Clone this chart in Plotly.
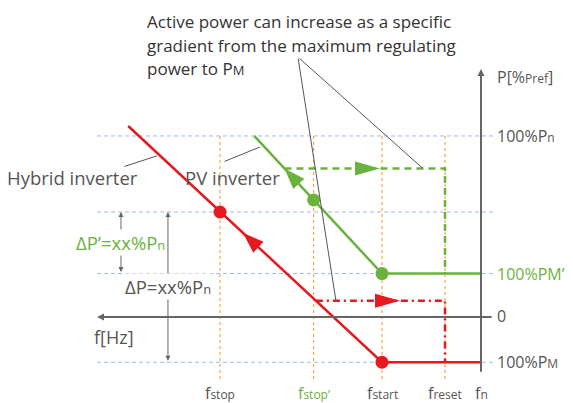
import numpy as np
import plotly.graph_objects as go

W, H = 573, 403

# ---- frequency marks (Hz); frequency grows to the left ----
f_n = 50.0
f_reset = 50.2
f_start = 50.55
f_stop_pv = 50.93
f_stop = 51.45
f_marks = [f_stop, f_stop_pv, f_start, f_reset, f_n]
f_mark_labels = ["f<span style='font-size:12px'>stop</span>",
                 "f<span style='font-size:12px'>stop’</span>",
                 "f<span style='font-size:12px'>start</span>",
                 "f<span style='font-size:12px'>reset</span>",
                 "f<span style='font-size:12px'>n</span>"]
f_mark_colors = ["#555555", "#6ab23e", "#555555", "#555555", "#555555"]

# ---- power levels (% of Pref) ----
P_n = 100
P_stop = 58
P_M_pv = 24
P_M = -25
P_pv_hold = 82
P_hyb_hold = 9

# ---- characteristic curves ----
hyb_f = [51.96, f_start, f_n]
hyb_p = [105.5, P_M, P_M]
pv_f = [51.26, f_start, f_n]
pv_p = [P_n, P_M_pv, P_M_pv]

# axis extents
x_range = [52.672, 49.489]
y_range = [-47.5, 175.1]
x_grid = [52.133, 49.933]
P_top_arrow = 137.0
P_axis_bottom = -31.0
P_dotted_bottom = -35.0

RED = "#e5191f"
GREEN = "#6ab23e"
GRAY = "#555555"
AXIS = "#666666"
BLUE = "#9fb9e3"
ORANGE = "#f7a93a"
FONT = "Open Sans"

sx = W / (x_range[0] - x_range[1])   # px per Hz
sy = H / (y_range[1] - y_range[0])   # px per %


def on_curve(fs, ps, f):
    return float(np.interp(f, fs[::-1], ps[::-1]))


fig = go.Figure()

# dashed horizontal reference levels
for lvl in [P_n, P_stop, P_M_pv, P_M]:
    fig.add_trace(go.Scatter(x=x_grid, y=[lvl, lvl], mode="lines",
                             line=dict(color=BLUE, width=1, dash="4px,3px"),
                             hoverinfo="skip", showlegend=False))

# dotted frequency markers
for f in f_marks[:-1]:
    fig.add_trace(go.Scatter(x=[f, f], y=[P_n, P_dotted_bottom], mode="lines",
                             line=dict(color=ORANGE, width=1.2, dash="3px,3px"),
                             hoverinfo="skip", showlegend=False))

# return paths after tripping
f_pv_hold = float(np.interp(P_pv_hold, pv_p[:2][::-1], pv_f[:2][::-1]))
f_hyb_hold = float(np.interp(P_hyb_hold, hyb_p[:2][::-1], hyb_f[:2][::-1]))
fig.add_trace(go.Scatter(x=[f_pv_hold, f_reset, f_reset], y=[P_pv_hold, P_pv_hold, P_M_pv],
                         mode="lines", line=dict(color=GREEN, width=2.5, dash="7px,5px"),
                         hoverinfo="skip", showlegend=False))
fig.add_trace(go.Scatter(x=[f_hyb_hold, f_reset, f_reset], y=[P_hyb_hold, P_hyb_hold, P_M],
                         mode="lines", line=dict(color=RED, width=2.5, dash="7px,4px,2px,4px"),
                         hoverinfo="skip", showlegend=False))

# characteristic curves
fig.add_trace(go.Scatter(x=pv_f, y=pv_p, mode="lines",
                         line=dict(color=GREEN, width=2.5), hoverinfo="skip", showlegend=False))
fig.add_trace(go.Scatter(x=hyb_f, y=hyb_p, mode="lines",
                         line=dict(color=RED, width=2.5), hoverinfo="skip", showlegend=False))

# operating points
fig.add_trace(go.Scatter(x=[f_stop_pv, f_start], y=[on_curve(pv_f, pv_p, f_stop_pv), P_M_pv],
                         mode="markers", marker=dict(color=GREEN, size=13),
                         hoverinfo="skip", showlegend=False))
fig.add_trace(go.Scatter(x=[f_stop, f_start], y=[P_stop, P_M],
                         mode="markers", marker=dict(color=RED, size=13),
                         hoverinfo="skip", showlegend=False))


# arrowheads: pixel-sized triangles anchored at their tips
def arrowhead(f_tip, p_tip, dx, dy, color, length, width):
    n = np.hypot(dx, dy)
    ux, uy = dx / n, dy / n
    vx, vy = -uy, ux
    bx, by = -ux * length, -uy * length
    pts = [(0, 0), (bx + vx * width / 2, by + vy * width / 2),
           (bx - vx * width / 2, by - vy * width / 2)]
    path = "M" + " L".join(f"{x:.2f},{y:.2f}" for x, y in pts) + " Z"
    fig.add_shape(type="path", path=path, xsizemode="pixel", ysizemode="pixel",
                  xanchor=f_tip, yanchor=p_tip, fillcolor=color, line=dict(width=0),
                  layer="above")


# direction along the sloped segments (up-left on screen)
def up_left(fs, ps):
    return (-(fs[0] - fs[1]) * sx, (ps[0] - ps[1]) * sy)


f_arrow_hyb = 51.322
arrowhead(f_arrow_hyb, on_curve(hyb_f, hyb_p, f_arrow_hyb), *up_left(hyb_f, hyb_p), RED, 21, 15)
arrowhead(f_pv_hold, P_pv_hold, *up_left(pv_f, pv_p), GREEN, 21, 15)
arrowhead(50.561, P_pv_hold, 1, 0, GREEN, 25, 14)
arrowhead(50.45, P_hyb_hold, 1, 0, RED, 25, 14)

ann = []


def text(x, y, s, color=GRAY, size=16, xanchor="center", xref="paper", yref="paper", bg=None):
    d = dict(x=x, y=y, xref=xref, yref=yref, text=s, showarrow=False,
             xanchor=xanchor, yanchor="middle",
             font=dict(family=FONT, size=size, color=color))
    if bg:
        d["bgcolor"] = bg
        d["borderpad"] = 0
    ann.append(d)


def arrow(x, y, ax, ay, color=AXIS, width=1, head=2, size=1.0, side="end"):
    ann.append(dict(x=x, y=y, ax=ax, ay=ay, xref="x", yref="y", axref="x", ayref="y",
                    text="", showarrow=True, arrowhead=head, arrowsize=size,
                    arrowwidth=width, arrowcolor=color, arrowside=side, startarrowhead=head,
                    startarrowsize=size))


# main axes
arrow(x_grid[0], 0, x_grid[1], 0, width=2, size=0.7)
arrow(f_n, P_top_arrow, f_n, P_axis_bottom, width=2, size=0.7)

# delta-P spans
arrow(52.0, P_stop, 52.0, P_M_pv, width=1, size=1.0, side="end+start")
arrow(51.739, P_stop, 51.739, P_M, width=1, size=1.0, side="end+start")

# leader lines
leader_f, leader_p = 51.017, 143.6
arrow(50.806, P_hyb_hold, leader_f, leader_p, color=GRAY, width=1, head=0)
arrow(50.322, P_pv_hold, leader_f, leader_p, color=GRAY, width=1, head=0)
arrow(51.8, 89.0, 51.989, 82.9, color=GRAY, width=1, head=0)
arrow(51.228, 93.9, 51.433, 85.6, color=GRAY, width=1, head=0)

# callout text
callout = ["Active power can increase as a specific",
           "gradient from the maximum regulating",
           "power to P<span style='font-size:13px'>M</span>"]
for i, line in enumerate(callout):
    text(145 / W, 1 - (21 + 24 * i) / H, line, color="#333333", size=17, xanchor="left")

# right-hand level labels
sub = "<span style='font-size:12px'>{}</span>"
sub_big = "<span style='font-size:13px'>{}</span>"
text(495 / W, 132.6, "P[%" + sub.format("Pref") + "]", xanchor="left", yref="y")
text(495 / W, P_n, "100%P" + sub.format("n"), xanchor="left", yref="y")
text(495 / W, P_M_pv, "100%PM’", color=GREEN, xanchor="left", yref="y")
text(495 / W, 0.5, "0", xanchor="left", yref="y")
text(495 / W, P_M, "100%P" + sub.format("M"), xanchor="left", yref="y")

# frequency labels
for f, lab, col in zip(f_marks, f_mark_labels, f_mark_colors):
    text(f, 1 - 393 / H, lab, color=col, xref="x")

text(114 / W, 1 - 337 / H, "f[Hz]", size=18)
text(72.5 / W, 1 - 177 / H, "Hybrid inverter", size=18.5)
text(232.5 / W, 1 - 177 / H, "PV inverter", size=18.5)
text(52.0, 41, "ΔP’=xx%P" + sub_big.format("n"), color=GREEN, size=18.5,
     xref="x", yref="y", bg="white")
text(51.739, 17, "ΔP=xx%P" + sub_big.format("n"), size=18.5,
     xref="x", yref="y", bg="white")

fig.update_layout(
    width=W, height=H, margin=dict(l=0, r=0, t=0, b=0),
    paper_bgcolor="white", plot_bgcolor="white",
    xaxis=dict(range=x_range, visible=False, fixedrange=True),
    yaxis=dict(range=y_range, visible=False, fixedrange=True),
    annotations=ann, showlegend=False,
)

fig.write_html("out.html")
